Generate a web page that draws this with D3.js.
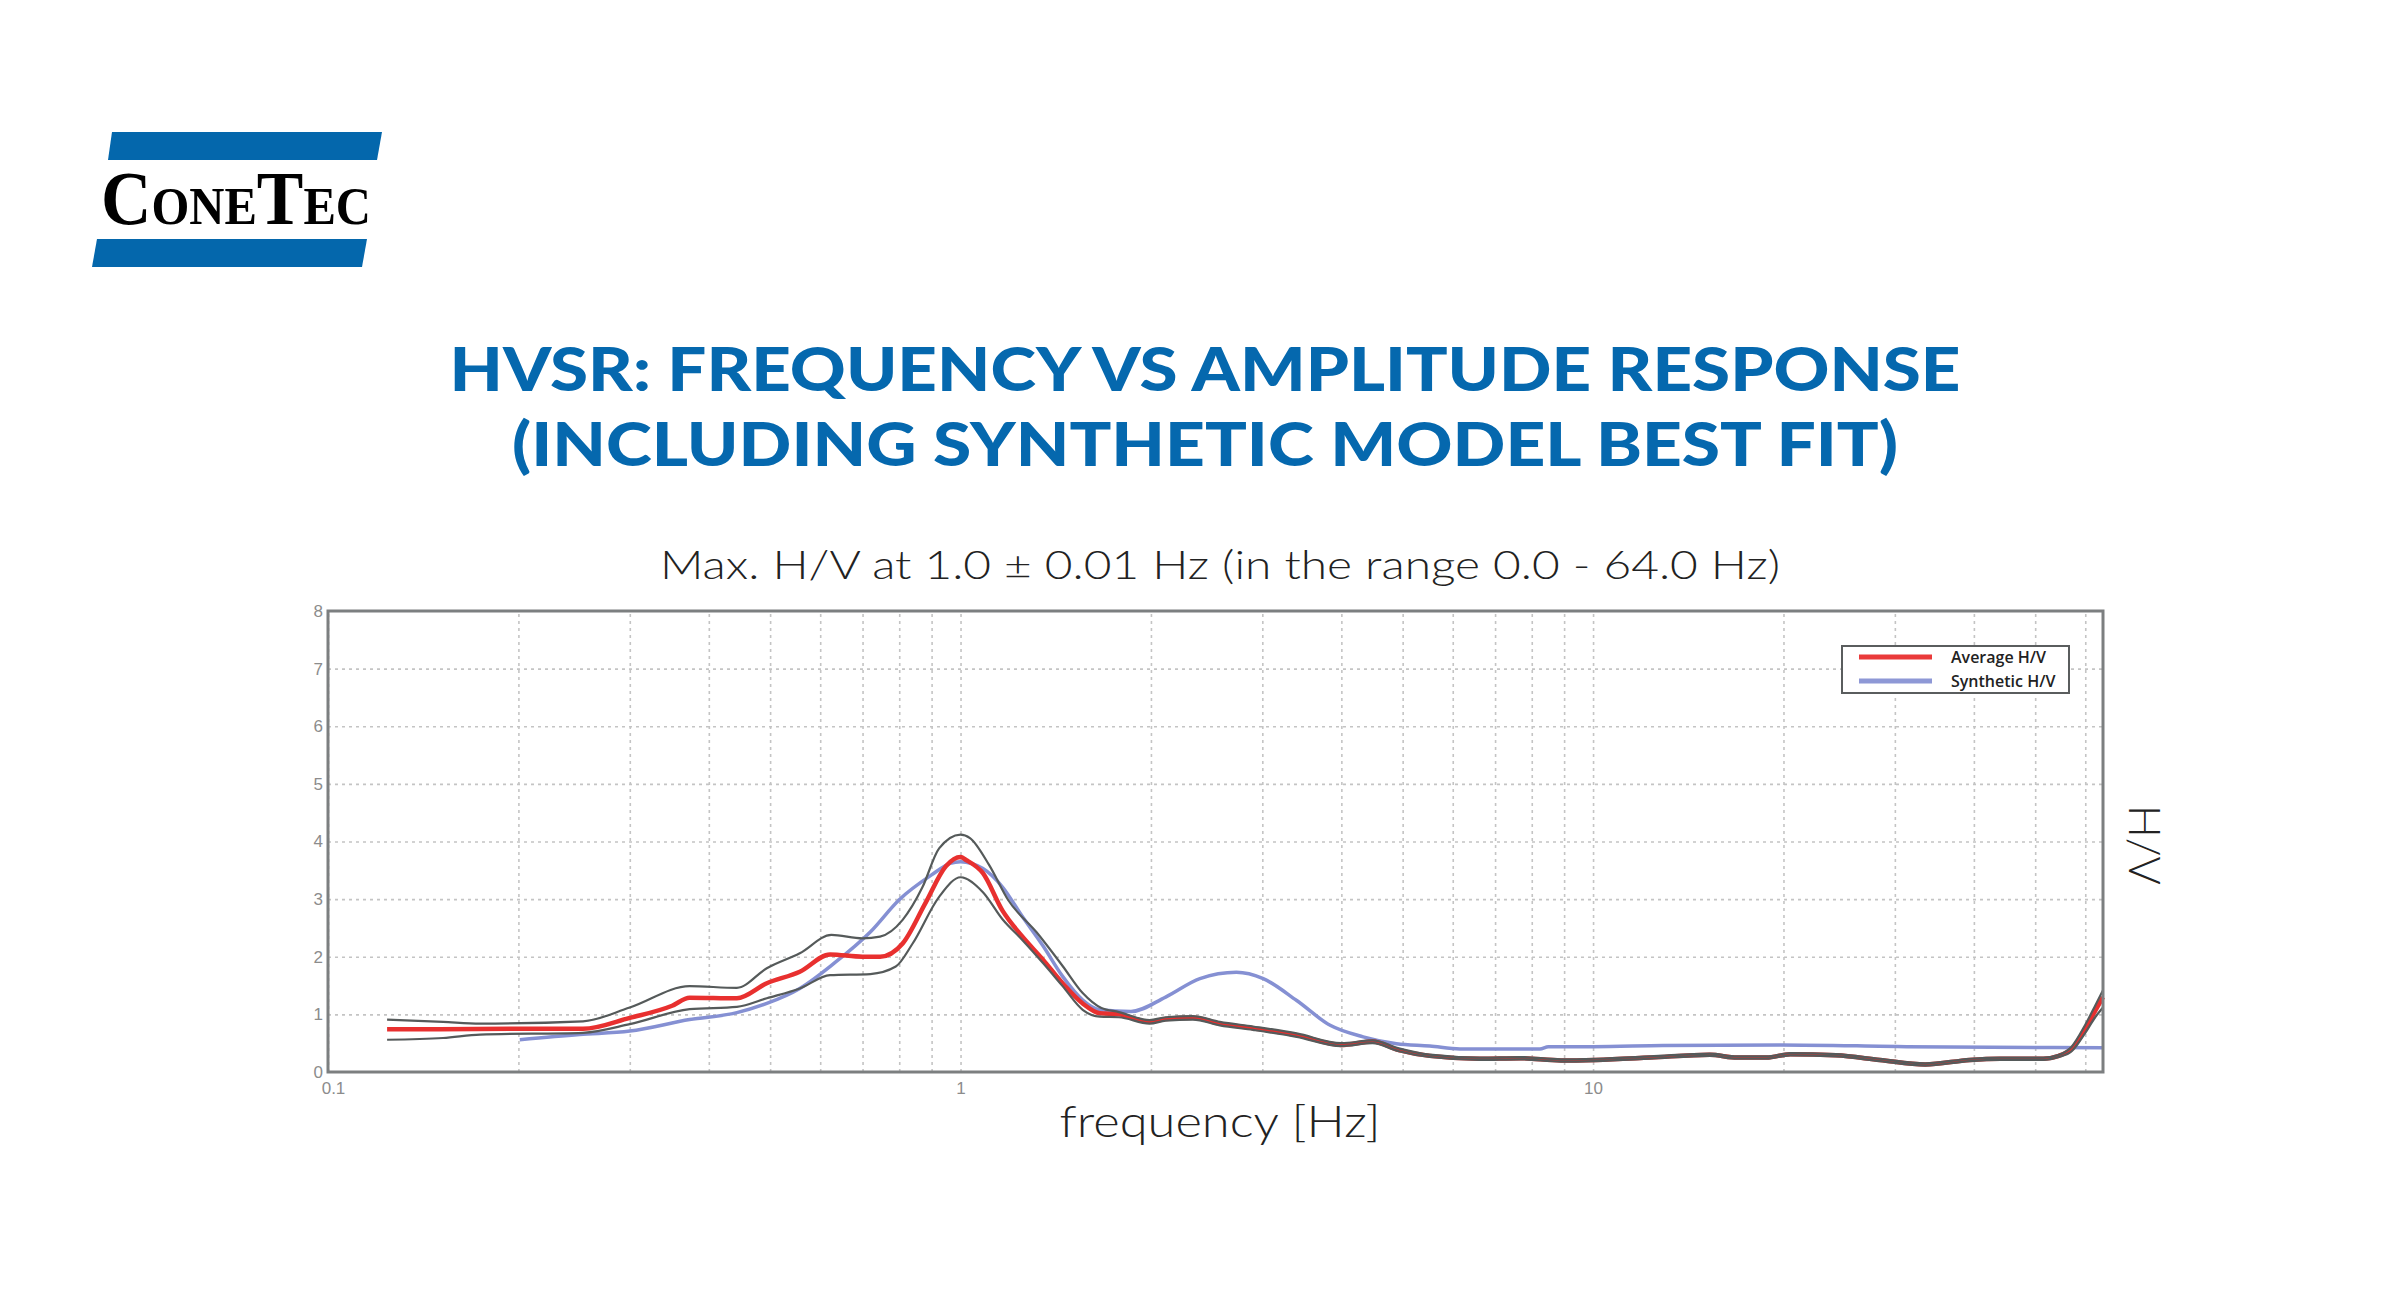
<!DOCTYPE html>
<html>
<head>
<meta charset="utf-8">
<script src="https://cdn.jsdelivr.net/npm/d3@7"></script>
<style>
  body { margin: 0; background: #fff; }
  svg { display: block; }
</style>
</head>
<body>
<div id="chart"></div>
<script>
// values: [frequency Hz, H/V]
const averageHV = [
  [0.124, 0.74], [0.15, 0.74], [0.2, 0.75], [0.253, 0.75], [0.3, 0.94], [0.35, 1.15],
  [0.373, 1.29], [0.443, 1.28], [0.494, 1.54], [0.557, 1.74], [0.622, 2.04], [0.70, 2.0],
  [0.746, 2.0], [0.81, 2.23], [0.88, 2.93], [0.948, 3.57], [1.0, 3.73], [1.02, 3.68],
  [1.085, 3.45], [1.165, 2.80], [1.25, 2.36], [1.35, 1.95], [1.45, 1.54], [1.56, 1.19],
  [1.66, 1.02], [1.78, 1.00], [1.99, 0.87], [2.11, 0.92], [2.33, 0.94],
  [2.57, 0.84], [2.9, 0.76], [3.4, 0.64], [4.0, 0.47], [4.48, 0.53], [4.93, 0.38],
  [5.52, 0.28], [6.62, 0.23], [7.67, 0.24], [8.9, 0.20], [10.1, 0.21], [12.3, 0.25],
  [15.3, 0.30], [16.9, 0.25], [18.8, 0.25], [20.5, 0.31], [24.2, 0.29], [28.4, 0.21],
  [33.5, 0.13], [39.4, 0.21], [44, 0.23], [51.5, 0.23], [54.5, 0.28], [57.1, 0.40],
  [60, 0.75], [62.2, 1.06], [64, 1.30]
];
const upperHV = [
  [0.124, 0.91], [0.152, 0.87], [0.174, 0.84], [0.253, 0.88], [0.3, 1.12], [0.373, 1.49],
  [0.443, 1.46], [0.494, 1.80], [0.557, 2.06], [0.625, 2.38], [0.70, 2.32], [0.746, 2.35],
  [0.81, 2.64], [0.87, 3.2], [0.925, 3.88], [1.0, 4.12], [1.035, 4.06], [1.11, 3.59],
  [1.19, 2.98], [1.32, 2.42], [1.45, 1.84], [1.56, 1.37], [1.67, 1.11], [1.78, 1.04],
  [1.99, 0.90], [2.11, 0.95],
  [2.33, 0.97], [2.57, 0.87], [2.9, 0.79], [3.4, 0.67], [4.0, 0.50], [4.48, 0.55],
  [4.93, 0.41], [5.52, 0.30], [6.62, 0.25], [7.67, 0.26], [8.9, 0.22], [10.1, 0.23],
  [12.3, 0.27], [15.3, 0.32], [16.9, 0.27], [18.8, 0.27], [20.5, 0.33], [24.2, 0.31],
  [28.4, 0.23], [33.5, 0.15], [39.4, 0.23], [44, 0.25], [51.5, 0.25], [54.5, 0.30],
  [57.1, 0.44], [60, 0.82], [62.2, 1.15], [64, 1.42]
];
const lowerHV = [
  [0.124, 0.56], [0.152, 0.59], [0.174, 0.65], [0.253, 0.68], [0.3, 0.83], [0.373, 1.09],
  [0.443, 1.13], [0.494, 1.28], [0.557, 1.45], [0.622, 1.68], [0.72, 1.70], [0.79, 1.83],
  [0.84, 2.23], [0.925, 3.04], [1.0, 3.38], [1.085, 3.12], [1.165, 2.65], [1.25, 2.30],
  [1.35, 1.89], [1.45, 1.49], [1.56, 1.08], [1.66, 0.96], [1.78, 0.95], [1.99, 0.84],
  [2.11, 0.89], [2.33, 0.91],
  [2.57, 0.81], [2.9, 0.73], [3.4, 0.61], [4.0, 0.45], [4.48, 0.50], [4.93, 0.36],
  [5.52, 0.26], [6.62, 0.21], [7.67, 0.22], [8.9, 0.18], [10.1, 0.19], [12.3, 0.23],
  [15.3, 0.28], [16.9, 0.23], [18.8, 0.23], [20.5, 0.29], [24.2, 0.27], [28.4, 0.19],
  [33.5, 0.11], [39.4, 0.19], [44, 0.21], [51.5, 0.21], [54.5, 0.26], [57.1, 0.36],
  [60, 0.68], [62.2, 0.95], [64, 1.12]
];
const syntheticHV = [
  [0.201, 0.56], [0.25, 0.65], [0.3, 0.71], [0.373, 0.91], [0.443, 1.03], [0.494, 1.19],
  [0.557, 1.45], [0.63, 1.88], [0.72, 2.43], [0.80, 2.99], [0.90, 3.42], [0.963, 3.62],
  [1.0, 3.65], [1.085, 3.53], [1.165, 3.21], [1.25, 2.71], [1.35, 2.19], [1.45, 1.66],
  [1.56, 1.25], [1.66, 1.08], [1.86, 1.05],
  [2.11, 1.30], [2.39, 1.62], [2.73, 1.73], [3.01, 1.62], [3.40, 1.24], [3.84, 0.81],
  [4.33, 0.61], [4.89, 0.49], [5.52, 0.45], [6.16, 0.40], [8.24, 0.40], [8.5, 0.44],
  [10, 0.44], [12.9, 0.46], [19.8, 0.47], [31.3, 0.44], [64, 0.42]
];

const xDomain = [0.1, 64];
const yDomain = [0, 8];
const yTickValues = [0, 1, 2, 3, 4, 5, 6, 7, 8];
const xTickValues = [0.1, 1, 10];
const legendItems = [
  { label: 'Average H/V', color: '#ea3a3a' },
  { label: 'Synthetic H/V', color: '#8e98d6' }
];

const titleLines = ['HVSR: FREQUENCY VS AMPLITUDE RESPONSE', '(INCLUDING SYNTHETIC MODEL BEST FIT)'];
const subtitle = 'Max. H/V at 1.0 \u00b1 0.01 Hz (in the range 0.0 - 64.0 Hz)';

var W = 2384, H = 1302;
var margin = { top: 611, right: 281, bottom: 230, left: 328 };
var width = W - margin.left - margin.right;
var height = H - margin.top - margin.bottom;

var svg = d3.select('#chart').append('svg')
  .attr('width', W)
  .attr('height', H)
  .style('background', '#fff');

// logo
var logo = svg.append('g');
logo.append('polygon').attr('points', '112,132 382,132 377,160 108,160').attr('fill', '#0467ac');
logo.append('polygon').attr('points', '97,239 367,239 362,267 92,267').attr('fill', '#0467ac');
logo.append('text')
  .attr('x', 101).attr('y', 224)
  .attr('textLength', 270).attr('lengthAdjust', 'spacingAndGlyphs')
  .style('font-family', '"Liberation Serif", "DejaVu Serif", serif')
  .style('font-weight', 700)
  .style('font-size', '76px')
  .style('font-variant', 'small-caps')
  .attr('fill', '#000')
  .text('ConeTec');

// titles
svg.selectAll('.title')
  .data(titleLines)
  .enter()
  .append('text')
  .attr('class', 'title')
  .attr('x', 1205)
  .attr('y', (d, i) => 391 + i * 75)
  .attr('text-anchor', 'middle')
  .attr('textLength', (d, i) => i === 0 ? 1511 : 1386)
  .attr('lengthAdjust', 'spacingAndGlyphs')
  .style('font-family', 'Lato, "Open Sans", sans-serif')
  .style('font-weight', 900)
  .style('font-size', '60px')
  .attr('fill', '#0568ae')
  .text(d => d);

svg.append('text')
  .attr('x', 1220).attr('y', 579)
  .attr('text-anchor', 'middle')
  .attr('textLength', 1120)
  .attr('lengthAdjust', 'spacingAndGlyphs')
  .style('font-family', 'Lato, "Open Sans", sans-serif')
  .style('font-weight', 300)
  .style('font-size', '40px')
  .attr('fill', '#222')
  .text(subtitle);

var x = d3.scaleLog().domain(xDomain).range([0, width]);
var y = d3.scaleLinear().domain(yDomain).range([height, 0]);

var g = svg.append('g')
  .attr('transform', 'translate(' + margin.left + ',' + margin.top + ')');

// grid
g.append('g')
  .attr('class', 'xgrid')
  .attr('transform', 'translate(0,' + height + ')')
  .call(d3.axisBottom(x).ticks(10).tickSize(-height).tickFormat(''))
  .call(s => s.select('.domain').remove());
g.append('g')
  .attr('class', 'ygrid')
  .call(d3.axisLeft(y).tickValues(yTickValues.slice(1, -1)).tickSize(-width).tickFormat(''))
  .call(s => s.select('.domain').remove());
g.selectAll('.xgrid line, .ygrid line')
  .attr('stroke', '#c4c4c4')
  .attr('stroke-width', 1.6)
  .attr('stroke-dasharray', '3,4');

// axis labels
g.append('g')
  .call(d3.axisLeft(y).tickValues(yTickValues).tickSize(0).tickPadding(5))
  .call(s => s.select('.domain').remove())
  .selectAll('text')
  .style('font-family', '"Liberation Sans", sans-serif')
  .style('font-size', '17px')
  .attr('fill', '#8c8c8c');
g.append('g')
  .attr('transform', 'translate(0,' + height + ')')
  .call(d3.axisBottom(x).tickValues(xTickValues).tickSize(0).tickPadding(10).tickFormat(d => String(d)))
  .call(s => s.select('.domain').remove())
  .selectAll('text')
  .attr('dx', (d, i) => i === 0 ? 5 : 0)
  .style('font-family', '"Liberation Sans", sans-serif')
  .style('font-size', '17px')
  .attr('fill', '#8c8c8c');

// curves
var line = d3.line()
  .x(d => x(d[0]))
  .y(d => y(d[1]))
  .curve(d3.curveMonotoneX);

var series = [
  { data: syntheticHV, color: '#8590d3', w: 3.5 },
  { data: averageHV, color: '#e8302f', w: 4.5 },
  { data: upperHV, color: '#555a5a', w: 2.2 },
  { data: lowerHV, color: '#555a5a', w: 2.2 }
];
g.selectAll('.curve')
  .data(series)
  .enter()
  .append('path')
  .attr('class', 'curve')
  .attr('d', d => line(d.data))
  .attr('fill', 'none')
  .attr('stroke', d => d.color)
  .attr('stroke-width', d => d.w)
  .attr('stroke-linejoin', 'round');

// frame
g.append('rect')
  .attr('width', width).attr('height', height)
  .attr('fill', 'none')
  .attr('stroke', '#7c7f80')
  .attr('stroke-width', 3);

// legend
var legend = g.append('g')
  .attr('transform', 'translate(' + (width - 261) + ',35)');
legend.append('rect')
  .attr('width', 227).attr('height', 47)
  .attr('fill', '#fff')
  .attr('stroke', '#5a5d5e')
  .attr('stroke-width', 2);
var items = legend.selectAll('.item')
  .data(legendItems)
  .enter()
  .append('g')
  .attr('transform', (d, i) => 'translate(0,' + (11 + i * 24) + ')');
items.append('line')
  .attr('x1', 17).attr('x2', 90)
  .attr('stroke', d => d.color)
  .attr('stroke-width', 5);
items.append('text')
  .attr('x', 109).attr('y', 6)
  .style('font-family', '"Open Sans", sans-serif')
  .style('font-weight', 600)
  .style('font-size', '16px')
  .attr('fill', '#222')
  .text(d => d.label);

// axis titles
svg.append('text')
  .attr('x', 1220).attr('y', 1137)
  .attr('text-anchor', 'middle')
  .attr('textLength', 321)
  .attr('lengthAdjust', 'spacingAndGlyphs')
  .style('font-family', 'Lato, "Open Sans", sans-serif')
  .style('font-weight', 300)
  .style('font-size', '44px')
  .attr('fill', '#222')
  .text('frequency [Hz]');

svg.append('text')
  .attr('transform', 'translate(2129,845) rotate(90)')
  .attr('text-anchor', 'middle')
  .attr('textLength', 80)
  .attr('lengthAdjust', 'spacingAndGlyphs')
  .style('font-family', 'Lato, "Open Sans", sans-serif')
  .style('font-weight', 300)
  .style('font-size', '44px')
  .attr('fill', '#222')
  .text('H/V');
</script>
</body>
</html>
